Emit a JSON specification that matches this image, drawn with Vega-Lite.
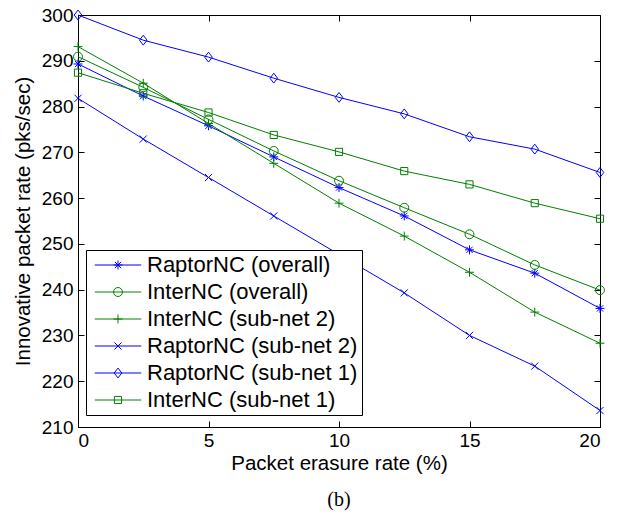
{
  "$schema": "https://vega.github.io/schema/vega-lite/v6.json",
  "autosize": {"type": "none"},
  "width": 522,
  "height": 412,
  "padding": {"left": 78, "top": 15, "right": 26, "bottom": 93},
  "background": "white",
  "config": {
    "font": "Liberation Sans",
    "view": {"stroke": "black", "strokeWidth": 1},
    "axis": {"domainColor": "black", "tickColor": "black", "labelColor": "black", "titleColor": "black", "labelFont": "Liberation Sans", "titleFont": "Liberation Sans", "labelFontSize": 19, "titleFontSize": 20.5, "titleFontWeight": "normal", "grid": false, "tickWidth": 1},
    "legend": {"labelFont": "Liberation Sans", "labelFontSize": 22, "labelLimit": 400, "rowPadding": 5, "symbolSize": 80, "symbolStrokeWidth": 1, "labelOffset": 18, "symbolOffset": 17, "padding": 4}
  },
  "title": {"text": "(b)", "orient": "bottom", "font": "Liberation Serif", "fontSize": 20, "fontWeight": "normal", "color": "black", "offset": 16},
  "data": {"values": [
    {"s": "RaptorNC (overall)", "x": 0, "y": 289.3}, {"s": "RaptorNC (overall)", "x": 2.5, "y": 282.3}, {"s": "RaptorNC (overall)", "x": 5, "y": 275.8}, {"s": "RaptorNC (overall)", "x": 7.5, "y": 269.0}, {"s": "RaptorNC (overall)", "x": 10, "y": 262.3}, {"s": "RaptorNC (overall)", "x": 12.5, "y": 256.1}, {"s": "RaptorNC (overall)", "x": 15, "y": 248.7}, {"s": "RaptorNC (overall)", "x": 17.5, "y": 243.6}, {"s": "RaptorNC (overall)", "x": 20, "y": 235.9},
    {"s": "InterNC (overall)", "x": 0, "y": 290.9}, {"s": "InterNC (overall)", "x": 2.5, "y": 284.2}, {"s": "InterNC (overall)", "x": 5, "y": 277.2}, {"s": "InterNC (overall)", "x": 7.5, "y": 270.3}, {"s": "InterNC (overall)", "x": 10, "y": 263.8}, {"s": "InterNC (overall)", "x": 12.5, "y": 257.9}, {"s": "InterNC (overall)", "x": 15, "y": 252.1}, {"s": "InterNC (overall)", "x": 17.5, "y": 245.4}, {"s": "InterNC (overall)", "x": 20, "y": 239.9},
    {"s": "InterNC (sub-net 2)", "x": 0, "y": 293.1}, {"s": "InterNC (sub-net 2)", "x": 2.5, "y": 285.1}, {"s": "InterNC (sub-net 2)", "x": 5, "y": 276.3}, {"s": "InterNC (sub-net 2)", "x": 7.5, "y": 267.6}, {"s": "InterNC (sub-net 2)", "x": 10, "y": 258.9}, {"s": "InterNC (sub-net 2)", "x": 12.5, "y": 251.7}, {"s": "InterNC (sub-net 2)", "x": 15, "y": 243.8}, {"s": "InterNC (sub-net 2)", "x": 17.5, "y": 235.1}, {"s": "InterNC (sub-net 2)", "x": 20, "y": 228.3},
    {"s": "RaptorNC (sub-net 2)", "x": 0, "y": 281.8}, {"s": "RaptorNC (sub-net 2)", "x": 2.5, "y": 272.9}, {"s": "RaptorNC (sub-net 2)", "x": 5, "y": 264.5}, {"s": "RaptorNC (sub-net 2)", "x": 7.5, "y": 256.1}, {"s": "RaptorNC (sub-net 2)", "x": 10, "y": 247.7}, {"s": "RaptorNC (sub-net 2)", "x": 12.5, "y": 239.3}, {"s": "RaptorNC (sub-net 2)", "x": 15, "y": 230.0}, {"s": "RaptorNC (sub-net 2)", "x": 17.5, "y": 223.3}, {"s": "RaptorNC (sub-net 2)", "x": 20, "y": 213.6},
    {"s": "RaptorNC (sub-net 1)", "x": 0, "y": 300.0}, {"s": "RaptorNC (sub-net 1)", "x": 2.5, "y": 294.5}, {"s": "RaptorNC (sub-net 1)", "x": 5, "y": 290.8}, {"s": "RaptorNC (sub-net 1)", "x": 7.5, "y": 286.2}, {"s": "RaptorNC (sub-net 1)", "x": 10, "y": 282.0}, {"s": "RaptorNC (sub-net 1)", "x": 12.5, "y": 278.4}, {"s": "RaptorNC (sub-net 1)", "x": 15, "y": 273.4}, {"s": "RaptorNC (sub-net 1)", "x": 17.5, "y": 270.7}, {"s": "RaptorNC (sub-net 1)", "x": 20, "y": 265.6},
    {"s": "InterNC (sub-net 1)", "x": 0, "y": 287.4}, {"s": "InterNC (sub-net 1)", "x": 2.5, "y": 282.9}, {"s": "InterNC (sub-net 1)", "x": 5, "y": 278.7}, {"s": "InterNC (sub-net 1)", "x": 7.5, "y": 273.8}, {"s": "InterNC (sub-net 1)", "x": 10, "y": 270.1}, {"s": "InterNC (sub-net 1)", "x": 12.5, "y": 265.9}, {"s": "InterNC (sub-net 1)", "x": 15, "y": 263.0}, {"s": "InterNC (sub-net 1)", "x": 17.5, "y": 258.9}, {"s": "InterNC (sub-net 1)", "x": 20, "y": 255.5}
  ]},
  "layer": [
    {
      "mark": {"type": "line", "strokeWidth": 1, "clip": false},
      "encoding": {
        "x": {"field": "x", "type": "quantitative", "scale": {"domain": [0, 20], "nice": false, "zero": false}, "axis": {"orient": "bottom", "title": "Packet erasure rate (%)", "values": [0, 5, 10, 15, 20], "ticks": true, "tickSize": -6, "labelPadding": 10, "titlePadding": 3}},
        "y": {"field": "y", "type": "quantitative", "scale": {"domain": [210, 300], "nice": false, "zero": false}, "axis": {"orient": "left", "title": "Innovative packet rate (pks/sec)", "values": [210, 220, 230, 240, 250, 260, 270, 280, 290, 300], "ticks": true, "tickSize": -6, "labelPadding": 11, "titlePadding": 8}},
        "color": {"field": "s", "type": "nominal", "scale": {"domain": ["RaptorNC (overall)", "InterNC (overall)", "InterNC (sub-net 2)", "RaptorNC (sub-net 2)", "RaptorNC (sub-net 1)", "InterNC (sub-net 1)"], "range": ["#0000ff", "#008000", "#008000", "#0000ff", "#0000ff", "#008000"]},
          "legend": {"title": null, "orient": "none", "legendX": 8, "legendY": 235, "zindex": 1, "strokeColor": "black", "fillColor": "white", "labelColor": "black", "symbolType": "M-5.2,0L5.2,0"}},
        "detail": {"field": "s"}
      }
    },
    {
      "mark": {"type": "point", "filled": false, "strokeWidth": 1, "size": 80, "clip": false, "opacity": 1},
      "encoding": {
        "x": {"field": "x", "type": "quantitative", "axis": null},
        "y": {"field": "y", "type": "quantitative", "axis": null},
        "color": {"field": "s", "type": "nominal", "scale": {"domain": ["RaptorNC (overall)", "InterNC (overall)", "InterNC (sub-net 2)", "RaptorNC (sub-net 2)", "RaptorNC (sub-net 1)", "InterNC (sub-net 1)"], "range": ["#0000ff", "#008000", "#008000", "#0000ff", "#0000ff", "#008000"]},
          "legend": {"title": null, "orient": "none", "legendX": 8, "legendY": 235, "zindex": 2, "labelColor": "transparent"}},
        "shape": {"field": "s", "type": "nominal", "scale": {"domain": ["RaptorNC (overall)", "InterNC (overall)", "InterNC (sub-net 2)", "RaptorNC (sub-net 2)", "RaptorNC (sub-net 1)", "InterNC (sub-net 1)"], "range": ["M-1,0L1,0M0,-1L0,1M-0.7,-0.7L0.7,0.7M-0.7,0.7L0.7,-0.7", "M1,0A1,1,0,1,1,-1,0A1,1,0,1,1,1,0Z", "M-1,0L1,0M0,-1L0,1", "M-0.8,-0.8L0.8,0.8M-0.8,0.8L0.8,-0.8", "M0,-1.1L0.85,0L0,1.1L-0.85,0Z", "M-0.8,-0.8L0.8,-0.8L0.8,0.8L-0.8,0.8Z"]},
          "legend": {"title": null, "orient": "none", "legendX": 8, "legendY": 235, "zindex": 2, "labelColor": "transparent"}}
      }
    },
    {
      "mark": {"type": "point", "opacity": 0},
      "encoding": {
        "x": {"field": "x", "type": "quantitative", "axis": {"orient": "top", "title": null, "labels": false, "domain": false, "values": [0, 5, 10, 15, 20], "ticks": true, "tickSize": -6}},
        "y": {"field": "y", "type": "quantitative", "axis": {"orient": "right", "title": null, "labels": false, "domain": false, "values": [210, 220, 230, 240, 250, 260, 270, 280, 290, 300], "ticks": true, "tickSize": -6}}
      }
    }
  ],
  "resolve": {"axis": {"x": "independent", "y": "independent"}, "scale": {"color": "independent", "shape": "independent"}, "legend": {"color": "independent", "shape": "independent"}}
}
